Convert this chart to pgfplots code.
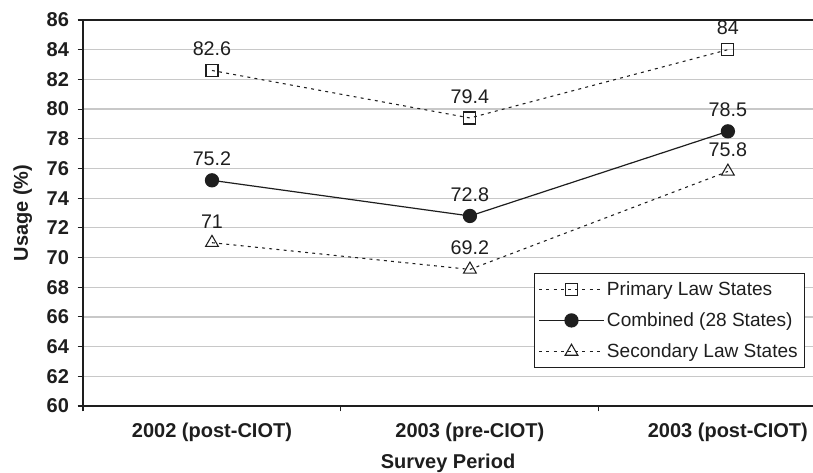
\documentclass[border=0pt]{standalone}
\usepackage{fontspec}
\setmainfont{Liberation Sans}
\usepackage{pgfplots}
\pgfplotsset{compat=1.18}
\usetikzlibrary{calc}

\definecolor{gridgray}{HTML}{C8C8C8}
\definecolor{ink}{HTML}{1E1E1E}

\begin{document}
\begin{tikzpicture}[x=1pt,y=1pt]
\begin{axis}[
  scale only axis,
  width=547.5pt, height=289.5pt,
  xmin=-0.5, xmax=2.33,
  ymin=60, ymax=86,
  axis lines*=left,
  axis line style={ink, line width=0.8pt},
  xtick={0,1,2},
  xticklabels={2002 (post-CIOT),2003 (pre-CIOT),2003 (post-CIOT)},
  major x tick style={draw=none},
  minor xtick={-0.5,0.5,1.5},
  minor x tick style={ink, line width=0.8pt},
  minor tick length=4pt,
  ytick={60,62,...,86},
  ytick style={ink, line width=0.8pt},
  major tick length=4pt,
  tick align=outside,
  ymajorgrids,
  grid style={gridgray, line width=0.9pt},
  /pgf/number format/assume math mode=true,
  tick label style={font=\fontsize{15}{17}\selectfont\bfseries, text=ink},
  xticklabel style={yshift=-5pt},
  yticklabel style={xshift=-3pt},
  xlabel={Survey Period},
  ylabel={Usage (\%)},
  label style={font=\fontsize{15}{17}\selectfont\bfseries, text=ink},
  xlabel style={yshift=-3pt},
  ylabel style={yshift=4pt},
  clip=false,
  nodes near coords,
  every node near coord/.style={anchor=south, inner sep=0pt, yshift=10.5pt,
    font=\fontsize{14.8}{16}\selectfont, text=ink},
  legend style={at={(0.989,0.345)}, anchor=north east,
    draw=ink, line width=0.8pt, fill=white,
    font=\fontsize{14.3}{16}\selectfont, text=ink,
    row sep=7.5pt, inner xsep=3pt, inner ysep=4pt},
  legend cell align=left,
  legend image code/.code={
    \draw[mark repeat=2, mark phase=2, #1]
      plot coordinates {(0cm,0cm) (0.85cm,0cm) (1.7cm,0cm)};
  },
]
\addplot[ink, line width=0.8pt, dash pattern=on 2.2pt off 3.2pt,
  mark=square, mark size=4.5pt,
  mark options={solid, fill=white, line width=0.8pt}]
  coordinates {(0,82.6) (1,79.4) (2,84)};
\addlegendentry{Primary Law States}

\addplot[ink, line width=0.9pt,
  mark=*, mark size=4.9pt,
  mark options={solid, fill=ink}]
  coordinates {(0,75.2) (1,72.8) (2,78.5)};
\addlegendentry{Combined (28 States)}

\addplot[ink, line width=0.8pt, dash pattern=on 2.2pt off 3.2pt,
  mark=triangle, mark size=5.5pt,
  mark options={solid, fill=white, line width=0.8pt}]
  coordinates {(0,71) (1,69.2) (2,75.8)};
\addlegendentry{Secondary Law States}

% dark frame line along the top of the plot area
\draw[ink, line width=0.8pt] (rel axis cs:0,1) -- (rel axis cs:1,1);
\end{axis}
\pgfresetboundingbox
\path ($(current axis.south west)+(-62.25pt,-50.25pt)$)
  rectangle ($(current axis.north east)+(0pt,15pt)$);
\end{tikzpicture}
\end{document}
